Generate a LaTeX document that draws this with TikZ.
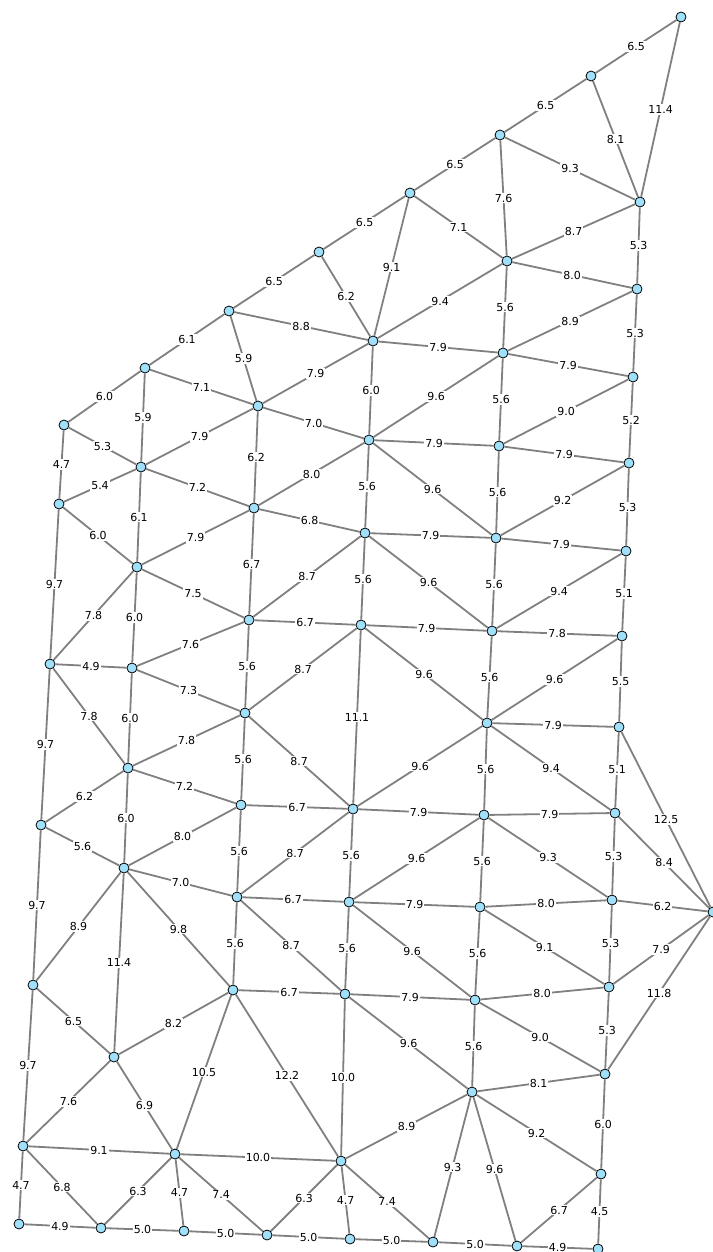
\documentclass[tikz,border=0pt]{standalone}
\usepackage{fontspec}
\setmainfont{DejaVu Sans}
\usepackage{xcolor}
\usepackage{tikz}
\definecolor{vtxblue}{RGB}{160,224,250}

\begin{document}
\begin{tikzpicture}[
  x=1pt, y=-1pt,
  font=\fontsize{11}{13}\selectfont,
  vtx/.style={circle, draw=black, fill=vtxblue, line width=0.8pt, minimum size=10pt, inner sep=0pt},
  edge/.style={draw=black!50, line width=1.8pt},
  lbl/.style={fill=white, inner sep=1pt, text=black}
]
  \useasboundingbox (0,0) rectangle (712,1252);

  % top chain
  \node[vtx] (t1) at (681,17) {};
  \node[vtx] (t2) at (591,76) {};
  \node[vtx] (t3) at (500,135) {};
  \node[vtx] (t4) at (410,193) {};
  \node[vtx] (t5) at (319,252) {};
  \node[vtx] (t6) at (229,311) {};
  \node[vtx] (t7) at (145,368) {};
  \node[vtx] (t8) at (64,425) {};

  % right column
  \node[vtx] (r1) at (640,202) {};
  \node[vtx] (r2) at (637,289) {};
  \node[vtx] (r3) at (633,377) {};
  \node[vtx] (r4) at (629,463) {};
  \node[vtx] (r5) at (626,551) {};
  \node[vtx] (r6) at (622,636) {};
  \node[vtx] (r7) at (619,727) {};
  \node[vtx] (r8) at (615,813) {};
  \node[vtx] (r9) at (612,900) {};
  \node[vtx] (r10) at (609,987) {};
  \node[vtx] (r11) at (605,1074) {};
  \node[vtx] (r12) at (601,1174) {};
  \node[vtx] (r13) at (598,1249) {};
  \node[vtx] (x1) at (713,912) {};

  \node[vtx] (c1) at (507,261) {};
  \node[vtx] (c2) at (503,353) {};
  \node[vtx] (c3) at (499,446) {};
  \node[vtx] (c4) at (496,538) {};
  \node[vtx] (c5) at (492,631) {};
  \node[vtx] (c6) at (487,723) {};
  \node[vtx] (c7) at (484,815) {};
  \node[vtx] (c8) at (480,907) {};
  \node[vtx] (c9) at (475,1000) {};
  \node[vtx] (c10) at (472,1092) {};

  \node[vtx] (d1) at (373,341) {};
  \node[vtx] (d2) at (369,440) {};
  \node[vtx] (d3) at (365,533) {};
  \node[vtx] (d4) at (361,625) {};
  \node[vtx] (d5) at (353,809) {};
  \node[vtx] (d6) at (349,902) {};
  \node[vtx] (d7) at (345,994) {};
  \node[vtx] (d8) at (341,1161) {};

  \node[vtx] (e1) at (258,406) {};
  \node[vtx] (e2) at (254,508) {};
  \node[vtx] (e3) at (249,620) {};
  \node[vtx] (e4) at (245,713) {};
  \node[vtx] (e5) at (241,805) {};
  \node[vtx] (e6) at (237,897) {};
  \node[vtx] (e7) at (233,990) {};
  \node[vtx] (e8) at (175,1154) {};

  \node[vtx] (f1) at (141,467) {};
  \node[vtx] (f2) at (137,567) {};
  \node[vtx] (f3) at (132,668) {};
  \node[vtx] (f4) at (128,768) {};
  \node[vtx] (f5) at (124,868) {};
  \node[vtx] (f6) at (114,1057) {};

  % left column
  \node[vtx] (g1) at (59,504) {};
  \node[vtx] (g2) at (50,664) {};
  \node[vtx] (g3) at (41,825) {};
  \node[vtx] (g4) at (33,985) {};
  \node[vtx] (g5) at (23,1146) {};
  \node[vtx] (g6) at (19,1224) {};

  % bottom row
  \node[vtx] (b1) at (101,1228) {};
  \node[vtx] (b2) at (184,1231) {};
  \node[vtx] (b3) at (267,1235) {};
  \node[vtx] (b4) at (350,1239) {};
  \node[vtx] (b5) at (433,1242) {};
  \node[vtx] (b6) at (517,1246) {};

  \draw[edge] (t1) -- node[lbl] {6.5} (t2);
  \draw[edge] (t2) -- node[lbl] {6.5} (t3);
  \draw[edge] (t3) -- node[lbl] {6.5} (t4);
  \draw[edge] (t4) -- node[lbl] {6.5} (t5);
  \draw[edge] (t5) -- node[lbl] {6.5} (t6);
  \draw[edge] (t6) -- node[lbl] {6.1} (t7);
  \draw[edge] (t7) -- node[lbl] {6.0} (t8);
  \draw[edge] (t1) -- node[lbl] {11.4} (r1);
  \draw[edge] (t2) -- node[lbl] {8.1} (r1);
  \draw[edge] (t3) -- node[lbl] {9.3} (r1);
  \draw[edge] (t3) -- node[lbl] {7.6} (c1);
  \draw[edge] (t4) -- node[lbl] {7.1} (c1);
  \draw[edge] (t4) -- node[lbl] {9.1} (d1);
  \draw[edge] (t5) -- node[lbl] {6.2} (d1);
  \draw[edge] (t6) -- node[lbl] {8.8} (d1);
  \draw[edge] (t6) -- node[lbl] {5.9} (e1);
  \draw[edge] (t7) -- node[lbl] {7.1} (e1);
  \draw[edge] (t7) -- node[lbl] {5.9} (f1);
  \draw[edge] (t8) -- node[lbl] {5.3} (f1);
  \draw[edge] (t8) -- node[lbl] {4.7} (g1);

  \draw[edge] (r1) -- node[lbl] {8.7} (c1);
  \draw[edge] (r1) -- node[lbl] {5.3} (r2);
  \draw[edge] (c1) -- node[lbl] {8.0} (r2);
  \draw[edge] (c1) -- node[lbl] {9.4} (d1);
  \draw[edge] (c1) -- node[lbl] {5.6} (c2);
  \draw[edge] (r2) -- node[lbl] {8.9} (c2);
  \draw[edge] (r2) -- node[lbl] {5.3} (r3);
  \draw[edge] (d1) -- node[lbl] {7.9} (c2);
  \draw[edge] (d1) -- node[lbl] {7.9} (e1);
  \draw[edge] (d1) -- node[lbl] {6.0} (d2);
  \draw[edge] (c2) -- node[lbl] {7.9} (r3);
  \draw[edge] (c2) -- node[lbl] {9.6} (d2);
  \draw[edge] (c2) -- node[lbl] {5.6} (c3);
  \draw[edge] (r3) -- node[lbl] {9.0} (c3);
  \draw[edge] (r3) -- node[lbl] {5.2} (r4);

  \draw[edge] (e1) -- node[lbl] {7.0} (d2);
  \draw[edge] (e1) -- node[lbl] {7.9} (f1);
  \draw[edge] (e1) -- node[lbl] {6.2} (e2);
  \draw[edge] (d2) -- node[lbl] {7.9} (c3);
  \draw[edge] (c3) -- node[lbl] {7.9} (r4);
  \draw[edge] (d2) -- node[lbl] {8.0} (e2);
  \draw[edge] (d2) -- node[lbl] {5.6} (d3);
  \draw[edge] (d2) -- node[lbl] {9.6} (c4);
  \draw[edge] (c3) -- node[lbl] {5.6} (c4);
  \draw[edge] (r4) -- node[lbl] {9.2} (c4);
  \draw[edge] (r4) -- node[lbl] {5.3} (r5);

  \draw[edge] (f1) -- node[lbl] {5.4} (g1);
  \draw[edge] (f1) -- node[lbl] {7.2} (e2);
  \draw[edge] (f1) -- node[lbl] {6.1} (f2);
  \draw[edge] (g1) -- node[lbl] {6.0} (f2);
  \draw[edge] (g1) -- node[lbl] {9.7} (g2);
  \draw[edge] (e2) -- node[lbl] {7.9} (f2);
  \draw[edge] (e2) -- node[lbl] {6.8} (d3);
  \draw[edge] (e2) -- node[lbl] {6.7} (e3);
  \draw[edge] (d3) -- node[lbl] {7.9} (c4);
  \draw[edge] (c4) -- node[lbl] {7.9} (r5);
  \draw[edge] (d3) -- node[lbl] {8.7} (e3);
  \draw[edge] (d3) -- node[lbl] {5.6} (d4);
  \draw[edge] (d3) -- node[lbl] {9.6} (c5);
  \draw[edge] (c4) -- node[lbl] {5.6} (c5);
  \draw[edge] (r5) -- node[lbl] {9.4} (c5);
  \draw[edge] (r5) -- node[lbl] {5.1} (r6);

  \draw[edge] (f2) -- node[lbl] {7.5} (e3);
  \draw[edge] (f2) -- node[lbl] {7.8} (g2);
  \draw[edge] (f2) -- node[lbl] {6.0} (f3);
  \draw[edge] (e3) -- node[lbl] {6.7} (d4);
  \draw[edge] (d4) -- node[lbl] {7.9} (c5);
  \draw[edge] (c5) -- node[lbl] {7.8} (r6);
  \draw[edge] (g2) -- node[lbl] {4.9} (f3);
  \draw[edge] (f3) -- node[lbl] {7.6} (e3);
  \draw[edge] (f3) -- node[lbl] {7.3} (e4);
  \draw[edge] (e3) -- node[lbl] {5.6} (e4);
  \draw[edge] (e4) -- node[lbl] {8.7} (d4);
  \draw[edge] (d4) -- node[lbl] {9.6} (c6);
  \draw[edge] (d4) -- node[lbl] {11.1} (d5);
  \draw[edge] (c5) -- node[lbl] {5.6} (c6);
  \draw[edge] (r6) -- node[lbl] {9.6} (c6);
  \draw[edge] (r6) -- node[lbl] {5.5} (r7);

  \draw[edge] (g2) -- node[lbl] {7.8} (f4);
  \draw[edge] (g2) -- node[lbl] {9.7} (g3);
  \draw[edge] (f3) -- node[lbl] {6.0} (f4);
  \draw[edge] (f4) -- node[lbl] {7.8} (e4);
  \draw[edge] (e4) -- node[lbl] {5.6} (e5);
  \draw[edge] (e4) -- node[lbl] {8.7} (d5);
  \draw[edge] (c6) -- node[lbl] {7.9} (r7);
  \draw[edge] (c6) -- node[lbl] {9.6} (d5);
  \draw[edge] (c6) -- node[lbl] {5.6} (c7);
  \draw[edge] (c6) -- node[lbl] {9.4} (r8);
  \draw[edge] (r7) -- node[lbl] {5.1} (r8);
  \draw[edge] (r7) -- node[lbl] {12.5} (x1);

  \draw[edge] (f4) -- node[lbl] {6.2} (g3);
  \draw[edge] (f4) -- node[lbl] {7.2} (e5);
  \draw[edge] (f4) -- node[lbl] {6.0} (f5);
  \draw[edge] (e5) -- node[lbl] {6.7} (d5);
  \draw[edge] (d5) -- node[lbl] {7.9} (c7);
  \draw[edge] (c7) -- node[lbl] {7.9} (r8);
  \draw[edge] (g3) -- node[lbl] {5.6} (f5);
  \draw[edge] (g3) -- node[lbl] {9.7} (g4);
  \draw[edge] (f5) -- node[lbl] {8.0} (e5);
  \draw[edge] (f5) -- node[lbl] {7.0} (e6);
  \draw[edge] (e5) -- node[lbl] {5.6} (e6);
  \draw[edge] (e6) -- node[lbl] {8.7} (d5);
  \draw[edge] (d5) -- node[lbl] {5.6} (d6);
  \draw[edge] (c7) -- node[lbl] {9.6} (d6);
  \draw[edge] (c7) -- node[lbl] {5.6} (c8);
  \draw[edge] (c7) -- node[lbl] {9.3} (r9);
  \draw[edge] (r8) -- node[lbl] {5.3} (r9);
  \draw[edge] (r8) -- node[lbl] {8.4} (x1);

  \draw[edge] (e6) -- node[lbl] {6.7} (d6);
  \draw[edge] (d6) -- node[lbl] {7.9} (c8);
  \draw[edge] (c8) -- node[lbl] {8.0} (r9);
  \draw[edge] (r9) -- node[lbl] {6.2} (x1);
  \draw[edge] (f5) -- node[lbl] {8.9} (g4);
  \draw[edge] (f5) -- node[lbl] {11.4} (f6);
  \draw[edge] (f5) -- node[lbl] {9.8} (e7);
  \draw[edge] (e6) -- node[lbl] {5.6} (e7);
  \draw[edge] (e6) -- node[lbl] {8.7} (d7);
  \draw[edge] (d6) -- node[lbl] {5.6} (d7);
  \draw[edge] (d6) -- node[lbl] {9.6} (c9);
  \draw[edge] (c8) -- node[lbl] {5.6} (c9);
  \draw[edge] (c8) -- node[lbl] {9.1} (r10);
  \draw[edge] (r9) -- node[lbl] {5.3} (r10);
  \draw[edge] (r10) -- node[lbl] {7.9} (x1);
  \draw[edge] (r11) -- node[lbl] {11.8} (x1);

  \draw[edge] (e7) -- node[lbl] {6.7} (d7);
  \draw[edge] (d7) -- node[lbl] {7.9} (c9);
  \draw[edge] (c9) -- node[lbl] {8.0} (r10);
  \draw[edge] (g4) -- node[lbl] {6.5} (f6);
  \draw[edge] (g4) -- node[lbl] {9.7} (g5);
  \draw[edge] (f6) -- node[lbl] {8.2} (e7);
  \draw[edge] (f6) -- node[lbl] {6.9} (e8);
  \draw[edge] (f6) -- node[lbl] {7.6} (g5);
  \draw[edge] (e7) -- node[lbl] {10.5} (e8);
  \draw[edge] (e7) -- node[lbl] {12.2} (d8);
  \draw[edge] (d7) -- node[lbl] {10.0} (d8);
  \draw[edge] (d7) -- node[lbl] {9.6} (c10);
  \draw[edge] (c9) -- node[lbl] {5.6} (c10);
  \draw[edge] (c9) -- node[lbl] {9.0} (r11);
  \draw[edge] (r10) -- node[lbl] {5.3} (r11);

  \draw[edge] (c10) -- node[lbl] {8.1} (r11);
  \draw[edge] (c10) -- node[lbl] {8.9} (d8);
  \draw[edge] (c10) -- node[lbl] {9.3} (b5);
  \draw[edge] (c10) -- node[lbl] {9.6} (b6);
  \draw[edge] (c10) -- node[lbl] {9.2} (r12);
  \draw[edge] (r11) -- node[lbl] {6.0} (r12);
  \draw[edge] (g5) -- node[lbl] {9.1} (e8);
  \draw[edge] (e8) -- node[lbl] {10.0} (d8);
  \draw[edge] (g5) -- node[lbl] {4.7} (g6);
  \draw[edge] (g5) -- node[lbl] {6.8} (b1);
  \draw[edge] (e8) -- node[lbl] {6.3} (b1);
  \draw[edge] (e8) -- node[lbl] {4.7} (b2);
  \draw[edge] (e8) -- node[lbl] {7.4} (b3);
  \draw[edge] (d8) -- node[lbl] {6.3} (b3);
  \draw[edge] (d8) -- node[lbl] {4.7} (b4);
  \draw[edge] (d8) -- node[lbl] {7.4} (b5);
  \draw[edge] (r12) -- node[lbl] {6.7} (b6);
  \draw[edge] (r12) -- node[lbl] {4.5} (r13);

  % bottom edge
  \draw[edge] (g6) -- node[lbl] {4.9} (b1);
  \draw[edge] (b1) -- node[lbl] {5.0} (b2);
  \draw[edge] (b2) -- node[lbl] {5.0} (b3);
  \draw[edge] (b3) -- node[lbl] {5.0} (b4);
  \draw[edge] (b4) -- node[lbl] {5.0} (b5);
  \draw[edge] (b5) -- node[lbl] {5.0} (b6);
  \draw[edge] (b6) -- node[lbl] {4.9} (r13);
\end{tikzpicture}
\end{document}
